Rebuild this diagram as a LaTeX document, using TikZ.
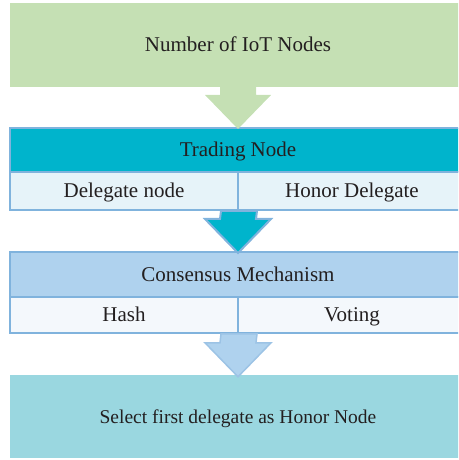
\documentclass[tikz,border=0pt]{standalone}
\usepackage{fontspec}
\setmainfont{Liberation Serif}
\usetikzlibrary{calc}

\definecolor{iotgreen}{HTML}{C5E0B4}
\definecolor{tradeteal}{HTML}{00B4CC}
\definecolor{traderow}{HTML}{E6F3F9}
\definecolor{consblue}{HTML}{AFD2EE}
\definecolor{consrow}{HTML}{F4F8FC}
\definecolor{finalcyan}{HTML}{9AD7E0}
\definecolor{edgeblue}{HTML}{80B3DD}
\definecolor{edgelight}{HTML}{9CC3E5}
\definecolor{textgray}{HTML}{231F20}

\tikzset{
  box/.style={inner sep=0pt, text=textgray, text height=15pt, text depth=1pt,
    font=\fontsize{21}{25}\selectfont},
  wide/.style={box, minimum width=456},
  cell/.style={box, minimum width=228, draw=edgeblue, line width=2pt},
  header/.style={wide, draw=edgeblue, line width=2pt}
}

% block arrow from a point down to the top of a node
\newcommand{\blockarrow}[3]{%
  \filldraw[line join=miter, #3] ($#1+(-18,0)$) -- ($#1+(18,0)$)
    -- ($(#2.north)+(18,32)$) -- ($(#2.north)+(33,32)$)
    -- ($(#2.north)+(0,-2)$)
    -- ($(#2.north)+(-33,32)$) -- ($(#2.north)+(-18,32)$) -- cycle;}

\begin{document}
\begin{tikzpicture}[x=1pt,y=1pt]
  \useasboundingbox (0,0) rectangle (458,460);
  \clip (0,0) rectangle (458,460);

  \node[wide, fill=iotgreen, minimum height=84] (iot) at (238,415) {Number of IoT Nodes};

  \node[header, fill=tradeteal, minimum height=44] (trade) at (238,310) {Trading Node};
  \node[cell, fill=traderow, minimum height=38] (delegate) at (124,269) {Delegate node};
  \node[cell, fill=traderow, minimum height=38] (honor) at (352,269) {Honor Delegate};

  \node[header, fill=consblue, minimum height=45] (consensus) at (238,185.5) {Consensus Mechanism};
  \node[cell, fill=consrow, minimum height=36] (hash) at (124,145) {Hash};
  \node[cell, fill=consrow, minimum height=36] (voting) at (352,145) {Voting};

  \node[wide, fill=finalcyan, minimum height=83, font=\fontsize{19.5}{24}\selectfont] (final) at (238,43.5) {Select first delegate as Honor Node};

  \blockarrow{(iot.south)}{trade}{fill=iotgreen, draw=none}
  \blockarrow{(delegate.south east)}{consensus}{fill=tradeteal, draw=edgeblue, line width=2pt}
  \blockarrow{(hash.south east)}{final}{fill=consblue, draw=edgelight, line width=1.5pt}
\end{tikzpicture}
\end{document}
